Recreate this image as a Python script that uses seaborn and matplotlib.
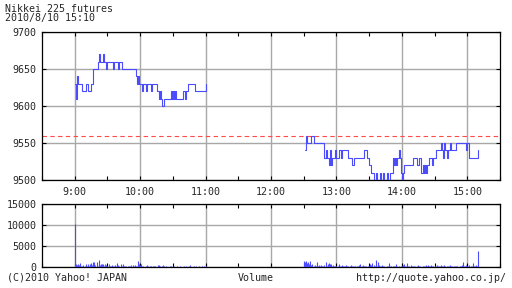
import numpy as np
import pandas as pd
import matplotlib
matplotlib.use("Agg")
import matplotlib.pyplot as plt
from matplotlib.ticker import FixedLocator
import seaborn as sns

# ---------------- data ----------------
title = "Nikkei 225 futures"
stamp = "2010/8/10 15:10"
prev_close = 9560

# price change points (minutes after 9:00 / 12:30)
am_t = [0, 1, 2, 3, 7, 10, 12, 15, 17, 21, 22, 23, 26, 27, 29, 30, 35, 36, 40, 41, 43,
        56, 57, 58, 59, 62, 63, 65, 66, 70, 71, 75, 77, 78, 79, 80, 82, 88, 89, 90, 91,
        92, 93, 99, 101, 102, 104, 110, 120]
am_p = [9630, 9610, 9640, 9630, 9620, 9630, 9620, 9630, 9650, 9660, 9670, 9660, 9670, 9660,
        9650, 9660, 9650, 9660, 9650, 9660, 9650, 9640, 9630, 9640, 9630, 9620, 9630, 9620,
        9630, 9620, 9630, 9620, 9610, 9620, 9610, 9600, 9610, 9620, 9610, 9620, 9610, 9620,
        9610, 9620, 9610, 9620, 9630, 9620, 9630]

pm_t = [1, 2, 3, 7, 9, 19, 20, 21, 23, 24, 25, 26, 29, 30, 32, 34, 35, 41, 44, 46, 55,
        58, 60, 62, 64, 66, 67, 70, 71, 73, 74, 76, 77, 79, 82, 83, 84, 85, 86, 87, 88,
        89, 90, 91, 92, 100, 104, 106, 108, 109, 110, 111, 112, 113, 115, 118, 119, 121,
        126, 127, 128, 129, 130, 131, 132, 134, 135, 140, 149, 150, 152, 160]
pm_p = [9540, 9560, 9550, 9560, 9550, 9530, 9540, 9530, 9520, 9540, 9520, 9530, 9540, 9530,
        9540, 9530, 9540, 9530, 9520, 9530, 9540, 9530, 9520, 9510, 9500, 9510, 9500, 9510,
        9500, 9510, 9500, 9510, 9500, 9510, 9530, 9520, 9530, 9520, 9530, 9540, 9530, 9510,
        9500, 9510, 9520, 9530, 9520, 9530, 9510, 9520, 9510, 9520, 9510, 9520, 9530, 9520,
        9530, 9540, 9550, 9540, 9530, 9550, 9540, 9530, 9540, 9550, 9540, 9550, 9540, 9550,
        9530, 9540]

# volume per minute (9:00-11:00, 12:30-15:10)
am_vol = [10300,
          600, 400, 700, 500, 900, 300, 200, 400, 300, 800,
          300, 600, 200, 700, 900, 400, 1100, 1300, 500, 1200,
          300, 1700, 400, 800, 600, 700, 300, 600, 400, 200,
          800, 300, 200, 400, 300, 200, 500, 300, 1000, 400,
          300, 800, 200, 700, 300, 200, 300, 100, 200, 300,
          200, 400, 500, 300, 400, 200, 300, 1500, 600, 400,
          700, 300, 200, 100, 300, 400, 200, 100, 200, 300,
          100, 200, 300, 200, 100, 400, 500, 300, 100, 200,
          500, 200, 100, 200, 100, 100, 200, 300, 100, 100,
          200, 100, 100, 300, 100, 100, 200, 100, 100, 300,
          100, 200, 100, 100, 200, 400, 100, 100, 200, 100,
          300, 100, 100, 200, 100, 100, 300, 100, 200, 200]
pm_vol = [1500, 1200, 1400, 900, 1100, 600, 1400, 500, 700, 300,
          400, 300, 1200, 300, 500, 200, 400, 300, 200, 500,
          1100, 300, 600, 900, 700, 600, 300, 400, 200, 300,
          200, 300, 800, 300, 200, 400, 300, 200, 300, 400,
          200, 300, 200, 400, 300, 200, 300, 200, 100, 300,
          200, 400, 800, 300, 400, 200, 300, 200, 100, 300,
          200, 700, 400, 1000, 500, 300, 1600, 300, 1100, 400,
          200, 300, 400, 300, 200, 100, 300, 200, 900, 300,
          200, 100, 300, 200, 200, 600, 300, 200, 100, 300,
          200, 400, 800, 300, 200, 900, 300, 200, 400, 300,
          200, 300, 200, 100, 300, 400, 200, 300, 100, 200,
          300, 200, 400, 300, 500, 200, 300, 400, 200, 300,
          300, 200, 400, 300, 200, 300, 500, 300, 200, 400,
          300, 200, 300, 200, 400, 300, 200, 100, 300, 200,
          300, 200, 100, 300, 200, 400, 1300, 300, 200, 500,
          200, 300, 400, 200, 300, 1000, 200, 300, 400, 200,
          3800]

hour_labels = ["9:00", "10:00", "11:00", "12:00", "13:00", "14:00", "15:00"]
price_ticks = [9500, 9550, 9600, 9650, 9700]
vol_ticks = [0, 5000, 10000, 15000]

# ---------------- style ----------------
sns.set_style("white")
plt.rcParams["font.family"] = ["DejaVu Sans Mono"]
plt.rcParams["font.size"] = 7.2

BLUE = "#4c4cff"
GRID = "#a8a8a8"
AM0 = 9 * 60
PM0 = 12 * 60 + 30

df_am = pd.DataFrame({"t": [AM0 + v for v in am_t], "p": am_p})
df_pm = pd.DataFrame({"t": [PM0 + v for v in pm_t], "p": pm_p})
vol_t = [AM0 + i for i in range(len(am_vol))] + [PM0 + i for i in range(len(pm_vol))]
vol_v = am_vol + pm_vol

fig = plt.figure(figsize=(5.12, 2.88), dpi=100)
ax = fig.add_axes([42 / 512, 1 - 180 / 288, 458 / 512, 148 / 288])
axv = fig.add_axes([42 / 512, 1 - 267 / 288, 458 / 512, 63 / 288])

hour_pos = [AM0 + 60 * i for i in range(len(hour_labels))]
half_pos = [AM0 - 30 + 60 * i for i in range(len(hour_labels) + 1)]

for a in (ax, axv):
    a.set_xlim(510, 930)
    a.xaxis.set_major_locator(FixedLocator(hour_pos))
    a.xaxis.set_minor_locator(FixedLocator(half_pos))
    a.grid(True, which="major", color=GRID, lw=1.0)
    a.set_axisbelow(True)
    for s in a.spines.values():
        s.set_color("black")
        s.set_linewidth(0.9)
    a.tick_params(which="both", direction="in", top=True, bottom=True,
                  left=True, right=True, length=3, width=0.8, color="black",
                  labelsize=7.2, pad=4)

# price panel
ax.axhline(prev_close, color="#ff4a4a", lw=0.8, ls=(0, (4, 3)), zorder=2)
for d in (df_am, df_pm):
    sns.lineplot(data=d, x="t", y="p", drawstyle="steps-post", color=BLUE,
                 lw=0.8, ax=ax, legend=False, zorder=3)
ax.set_ylim(9500, 9700)
ax.yaxis.set_major_locator(FixedLocator(price_ticks))
ax.set_xticklabels(hour_labels)
ax.set_xlabel("")
ax.set_ylabel("")
ax.tick_params(axis="x", pad=5)

# volume panel
axv.vlines(vol_t, 0, vol_v, color=BLUE, lw=0.8, zorder=3)
axv.set_ylim(0, 15000)
axv.yaxis.set_major_locator(FixedLocator(vol_ticks))
axv.set_yticklabels([str(v) for v in vol_ticks])
axv.tick_params(axis="x", labelbottom=False)

fig.text(5 / 512, 1 - 3.5 / 288, title, ha="left", va="top", fontsize=7.2)
fig.text(5 / 512, 1 - 12.5 / 288, stamp, ha="left", va="top", fontsize=7.2)
fig.text(7 / 512, 1 - 278 / 288, "(C)2010 Yahoo! JAPAN", ha="left", va="center", fontsize=7.2)
fig.text(256 / 512, 1 - 278 / 288, "Volume", ha="center", va="center", fontsize=7.2)
fig.text(506 / 512, 1 - 278 / 288, "http://quote.yahoo.co.jp/", ha="right", va="center", fontsize=7.2)

fig.savefig("out.png", dpi=100)
